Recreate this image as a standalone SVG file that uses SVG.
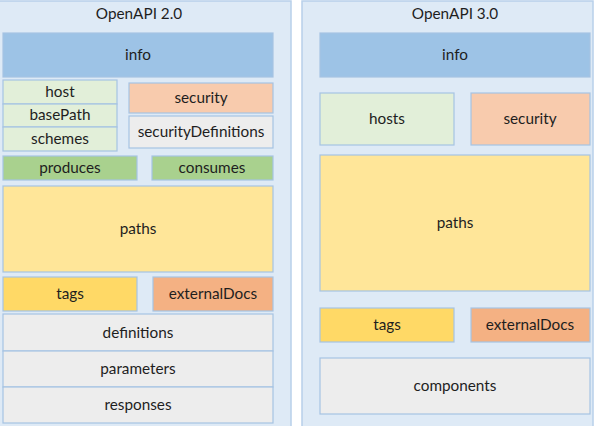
<svg xmlns="http://www.w3.org/2000/svg" width="597" height="426" viewBox="0 0 597 426">
<style>
text{font-family:Lato,"Open Sans","Liberation Sans",sans-serif;font-size:15.3px;fill:#1e1e1e;text-anchor:middle}
.panel{fill:#deeaf6;stroke:#b8d0ea;stroke-width:1.5}
rect.b{stroke:#a6c3e3;stroke-width:1.2}
.info{fill:#9dc3e6}
.lg{fill:#e2efd9}
.sec{fill:#f8cbad}
.gr{fill:#ededed}
.dg{fill:#a9d18e}
.py{fill:#ffe699}
.ty{fill:#ffd966}
.or{fill:#f4b183}
</style>
<rect width="597" height="426" fill="#ffffff"/>
<g id="panel-v2">
<rect class="panel" x="-1" y="1" width="292" height="427"/>
<text x="139" y="19">OpenAPI 2.0</text>
</g>
<g id="panel-v3">
<rect class="panel" x="302" y="1" width="291" height="427"/>
<text x="455" y="19">OpenAPI 3.0</text>
</g>
<g id="v2-info"><rect class="b info" x="3" y="33" width="270" height="44"/><text x="138" y="60">info</text></g>
<g id="v2-host"><rect class="b lg" x="3" y="80" width="114" height="24"/><text x="60" y="97">host</text></g>
<g id="v2-basePath"><rect class="b lg" x="3" y="104" width="114" height="23"/><text x="60" y="120">basePath</text></g>
<g id="v2-schemes"><rect class="b lg" x="3" y="127" width="114" height="24"/><text x="60" y="144">schemes</text></g>
<g id="v2-security"><rect class="b sec" x="129" y="83" width="144" height="30"/><text x="201" y="103">security</text></g>
<g id="v2-securityDefinitions"><rect class="b gr" x="129" y="116" width="144" height="32"/><text x="201" y="137">securityDefinitions</text></g>
<g id="v2-produces"><rect class="b dg" x="3" y="156" width="134" height="24"/><text x="70" y="173">produces</text></g>
<g id="v2-consumes"><rect class="b dg" x="152" y="156" width="121" height="24"/><text x="212" y="173">consumes</text></g>
<g id="v2-paths"><rect class="b py" x="3" y="186" width="270" height="86"/><text x="138" y="234">paths</text></g>
<g id="v2-tags"><rect class="b ty" x="3" y="277" width="134" height="34"/><text x="70" y="299">tags</text></g>
<g id="v2-externalDocs"><rect class="b or" x="153" y="277" width="120" height="34"/><text x="213" y="299">externalDocs</text></g>
<g id="v2-definitions"><rect class="b gr" x="3" y="314" width="270" height="37"/><text x="138" y="338">definitions</text></g>
<g id="v2-parameters"><rect class="b gr" x="3" y="351" width="270" height="36"/><text x="138" y="374">parameters</text></g>
<g id="v2-responses"><rect class="b gr" x="3" y="387" width="270" height="36"/><text x="138" y="410">responses</text></g>
<g id="v3-info"><rect class="b info" x="320" y="33" width="270" height="44"/><text x="455" y="60">info</text></g>
<g id="v3-hosts"><rect class="b lg" x="320" y="93" width="134" height="52"/><text x="387" y="124">hosts</text></g>
<g id="v3-security"><rect class="b sec" x="471" y="93" width="119" height="52"/><text x="530" y="124">security</text></g>
<g id="v3-paths"><rect class="b py" x="320" y="155" width="270" height="136"/><text x="455" y="228">paths</text></g>
<g id="v3-tags"><rect class="b ty" x="320" y="308" width="134" height="34"/><text x="387" y="330">tags</text></g>
<g id="v3-externalDocs"><rect class="b or" x="471" y="308" width="119" height="34"/><text x="530" y="330">externalDocs</text></g>
<g id="v3-components"><rect class="b gr" x="320" y="358" width="270" height="56"/><text x="455" y="391">components</text></g>
<g id="connectors"></g>
</svg>
